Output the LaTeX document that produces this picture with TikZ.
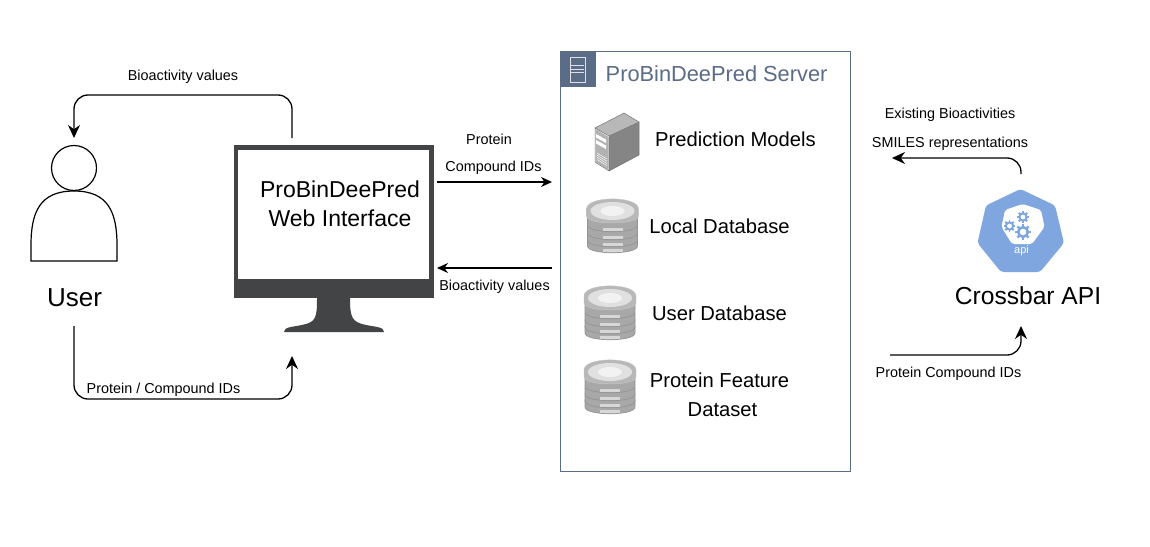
\documentclass[tikz,border=0pt]{standalone}
\usepackage{fontspec}
\setmainfont{Liberation Sans}
\usetikzlibrary{arrows.meta,shadings}
\definecolor{slateb}{HTML}{5A6C86}
\definecolor{apib}{HTML}{7FA6DE}
\definecolor{mon}{HTML}{434445}
\tikzset{
 lbl/.style={font=\fontsize{14.4}{17}\selectfont,inner sep=0pt,text=black},
 big/.style={font=\fontsize{20.2}{24}\selectfont,inner sep=0pt,text=black},
 huge/.style={font=\fontsize{23}{28}\selectfont,inner sep=0pt,text=black},
 conn/.style={line width=1.3pt,rounded corners=14pt,-{Stealth[length=13pt,width=12pt]}},
 straightconn/.style={line width=1.3pt,-{Stealth[length=11pt,width=10pt]}},
 disc/.style={draw=black!42,line width=.7pt,left color=black!34,middle color=black!14,right color=black!34},
 lid/.style={draw=black!22,line width=.4pt,left color=black!28,middle color=black!10,right color=black!28},
}
\newcommand{\dbicon}[3]{%
 \begin{scope}[shift={(#2,#3)}]
  \foreach \b in {27,21,14,6}{
   \path[disc] (-25,\b-14) -- (-25,\b-7) .. controls (-25,\b+2) and (25,\b+2) .. (25,\b-7) -- (25,\b-14) -- cycle;
   \fill[white,opacity=.55] (-10,\b-4.5) rectangle (10,\b-1.5);
  }
  \path[lid] (-26,-17) -- (-26,-10) .. controls (-26,-0.7) and (26,-0.7) .. (26,-10) -- (26,-17) .. controls (26,-30.5) and (-26,-30.5) .. cycle;
  \fill[black!12] (0,-15) ellipse[x radius=22,y radius=9];
  \fill[white,opacity=.6] (0,-15) ellipse[x radius=12,y radius=5];
  \coordinate (#1) at (0,0);
 \end{scope}}
\newcommand{\gearicon}[3]{%
 \draw[apib,line width=#3*.55pt] (#1,#2) circle[radius=#3];
 \foreach \a in {0,45,...,315}{ \draw[apib,line width=#3*.5pt] (#1,#2) ++(\a:#3) -- ++(\a:#3*.65); }}
\begin{document}
\begin{tikzpicture}[x=1pt,y=-1pt]
\path[use as bounding box,fill=white] (0,0) rectangle (1150,546);

% user
\draw[line width=1.2pt,fill=white] (31,261) -- (31,245) .. controls (31,212) and (40,191) .. (74,191) .. controls (108,191) and (117,212) .. (117,245) -- (117,261) -- cycle;
\draw[line width=1.2pt,fill=white] (74,168) circle[radius=22.5];
\node[inner sep=0pt,text=black,font=\fontsize{26}{30}\selectfont] (usertxt) at (74.5,298) {User};

% monitor
\fill[mon] (234,145) rectangle (434,298);
\fill[mon] (317,298) .. controls (317,318) and (316,322) .. (302,325) .. controls (292,327) and (284,327) .. (284,332) -- (384,332) .. controls (384,327) and (376,327) .. (366,325) .. controls (352,322) and (350,318) .. (350,298) -- cycle;
\node[fill=white,minimum width=191pt,minimum height=129pt,inner sep=0pt,anchor=north west] (screen) at (238,150) {};
\node[huge,align=center] (webtxt) at (340,204) {ProBinDeePred\\[1pt]Web Interface};

% server group
\node[draw=slateb,line width=1.3pt,fill=white,minimum width=290pt,minimum height=420pt,inner sep=0pt,anchor=north west] (server) at (559.5,50.8) {};
\node[fill=slateb,minimum width=36pt,minimum height=36pt,inner sep=0pt,anchor=north west] (hdr) at (559.5,50.8) {};
\draw[white!80!slateb,line width=.9pt] (570,57) rectangle (585,82) (571,65) -- (584,65) (571,69) -- (584,69) (571,72) -- (584,72);
\node[inner sep=0pt,text=slateb,font=\fontsize{21.8}{26}\selectfont,anchor=west] (title) at (605.5,74) {ProBinDeePred Server};

% server box icon
\fill[black!48] (609,136) -- (639,122) -- (639,155) -- (609,171) -- cycle;
\path[fill=black!28] (595,128) -- (624,113) -- (639,122) -- (609,136) -- cycle;
\path[fill=black!30] (595.5,129) -- (608.5,137) -- (608.5,170) -- (595.5,162) -- cycle;
\draw[black!55,line width=.5pt] (595,128) -- (624,113) -- (639,122) -- (639,155) -- (609,171) -- (595,162) -- cycle (595,128) -- (609,136) -- (639,122) (609,136) -- (609,171);
\fill[white] (596,134) -- (606,139.5) -- (606,143) -- (596,137.5) -- cycle;
\fill[white] (596,140) -- (606,145.5) -- (606,149) -- (596,143.5) -- cycle;
\foreach \k in {0,1,2,3}{ \draw[white,line width=.5pt] (597,{153+\k*2.2}) -- (607,{159+\k*2.2}); }

\node[big] (pm) at (735.5,139) {Prediction Models};
\dbicon{db1}{612.5}{226}
\node[big] (ld) at (719.5,226) {Local Database};
\dbicon{db2}{610}{313}
\node[big] (ud) at (719.5,313) {User Database};
\dbicon{db3}{610}{387}
\node[big] (pf) at (719.5,380) {Protein Feature};
\node[big] (ds) at (722.5,409.5) {Dataset};

% api icon
\fill[apib,rounded corners=3pt] (1020.5,189) -- (1055,205.5) -- (1064,243) -- (1040,272) -- (1001,272) -- (977.5,243) -- (986,205.5) -- cycle;
\fill[white,rounded corners=2pt] (1022.5,204) -- (1041,210) -- (1044.5,227) -- (1032,244) -- (1012,244) -- (1001.5,227) -- (1005,210) -- cycle;
\gearicon{1009.5}{226}{3.6}
\gearicon{1023}{217}{3.6}
\gearicon{1023}{232}{4.8}
\node[inner sep=0pt,text=white,font=\fontsize{11}{13}\selectfont] (apitxt) at (1021.5,251) {api};
\node[inner sep=0pt,text=black,font=\fontsize{24.6}{28}\selectfont] (cb) at (1028,296) {Crossbar API};

% free connector ends
\coordinate (a1) at (292,138);
\coordinate (a2) at (292,95);
\coordinate (a3) at (74,95);
\coordinate (a4) at (74,138);
\coordinate (b1) at (74,326);
\coordinate (b2) at (74,399);
\coordinate (b3) at (292,399);
\coordinate (b4) at (292,356);
\coordinate (c1) at (437,182);
\coordinate (c2) at (552,182);
\coordinate (d1) at (552,268);
\coordinate (d2) at (437,268);
\coordinate (e1) at (890,355);
\coordinate (e2) at (1021,355);
\coordinate (e3) at (1021,326);
\coordinate (f1) at (1021,174);
\coordinate (f2) at (1021,158);
\coordinate (f3) at (892,158);

\draw[conn] (a1) -- (a2) -- (a3) -- (a4);
\draw[conn] (b1) -- (b2) -- (b3) -- (b4);
\draw[straightconn] (c1) -- (c2);
\draw[straightconn] (d1) -- (d2);
\draw[conn] (e1) -- (e2) -- (e3);
\draw[conn] (f1) -- (f2) -- (f3);

% labels
\node[lbl] (l1) at (183,77) {Bioactivity values};
\node[lbl] (l2) at (163.5,390) {Protein / Compound IDs};
\node[lbl] (l3) at (489,139) {Protein};
\node[lbl] (l4) at (493.5,168) {Compound IDs};
\node[lbl] (l5) at (494.5,287) {Bioactivity values};
\node[lbl] (l6) at (950,115) {Existing Bioactivities};
\node[lbl] (l7) at (950,144) {SMILES representations};
\node[lbl] (l8) at (948.5,374) {Protein Compound IDs};
\end{tikzpicture}
\end{document}
